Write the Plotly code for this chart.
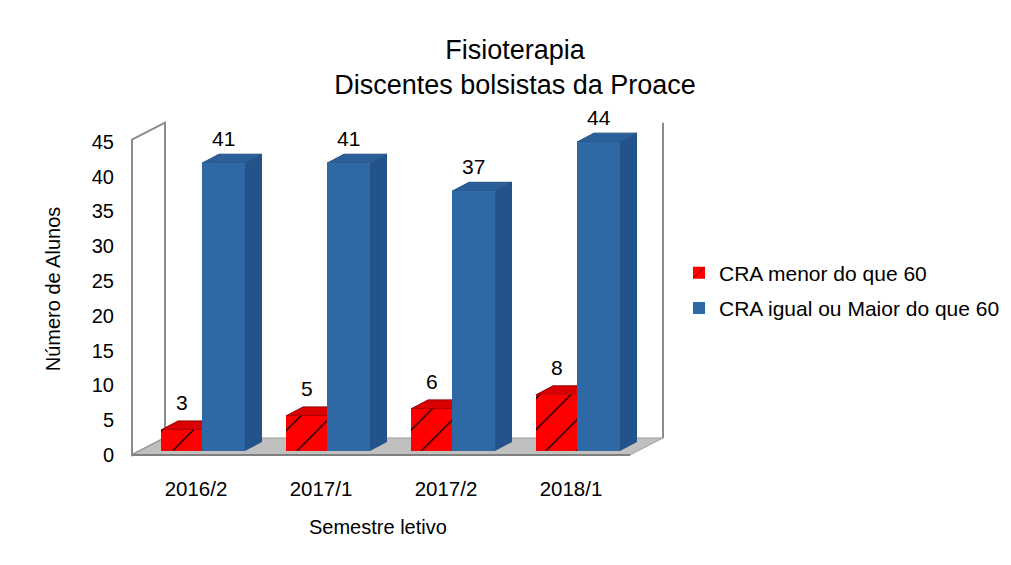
import plotly.graph_objects as go

# ---------------- data ----------------
semestres = ["2016/2", "2017/1", "2017/2", "2018/1"]
cra_menor = [3, 5, 6, 8]
cra_maior = [41, 41, 37, 44]
nome_menor = "CRA menor do que 60"
nome_maior = "CRA igual ou Maior do que 60"
y_ticks = [0, 5, 10, 15, 20, 25, 30, 35, 40, 45]

titulo = "Fisioterapia<br>Discentes bolsistas da Proace"
titulo_y = "Número de Alunos"
titulo_x = "Semestre letivo"

# ---------------- style / geometry ----------------
FONT = "Liberation Sans, Arial, sans-serif"
RED = "#FF0000"
RED_TOP = "#D80000"
BLUE = "#2E69A6"
BLUE_SIDE = "#24528A"
BLUE_TOP = "#2A5F99"

W, H = 1011, 565
ML, MR, MT, MB = 122, 351, 112, 115   # page has an 8px body margin
PW = W - ML - MR
PH = H - MT - MB

pos = list(range(len(semestres)))
RED_OFF, RED_W = -0.28, 0.328
BLUE_OFF, BLUE_W = 0.048, 0.344
DDX, DDY = 0.136, 1.28          # bar depth (x units, y2 units)

X_RANGE = [-0.528, 3.776]
Y_RANGE = [-0.431, 48.13]       # front plane (tick labels)
Y2_RANGE = [-0.997, 47.15]      # plane where bars stand

# floor / walls (front plane axis units)
FL_X0, FL_X1 = -0.512, 3.472
W_DX, W_DY = 0.264, 2.45
W_TOP = 45.3

fig = go.Figure()

fig.add_bar(
    x=pos, y=cra_menor, offset=RED_OFF, width=RED_W, name=nome_menor,
    yaxis="y2", legendgroup="a",
    marker=dict(color=RED, line=dict(width=0),
                pattern=dict(shape="/", fgcolor="black", bgcolor=RED,
                             size=22, solidity=0.06, fillmode="replace")),
    hovertemplate="%{y}<extra>" + nome_menor + "</extra>",
)
fig.add_bar(
    x=pos, y=cra_maior, offset=BLUE_OFF, width=BLUE_W, name=nome_maior,
    yaxis="y2", legendgroup="b",
    marker=dict(color=BLUE, line=dict(width=0)),
    hovertemplate="%{y}<extra>" + nome_maior + "</extra>",
)

shapes = []
# left wall
shapes.append(dict(type="path", xref="x", yref="y", layer="below",
                   path=f"M{FL_X0},0 L{FL_X0},{W_TOP} L{FL_X0+W_DX},{W_TOP+W_DY} L{FL_X0+W_DX},{W_DY} Z",
                   fillcolor="white", line=dict(color="#8C8C8C", width=2)))
# floor
shapes.append(dict(type="path", xref="x", yref="y", layer="below",
                   path=f"M{FL_X0},0 L{FL_X1},0 L{FL_X1+W_DX},{W_DY} L{FL_X0+W_DX},{W_DY} Z",
                   fillcolor="#C0C0C0", line=dict(color="#A0A0A0", width=1)))
# front floor edge
shapes.append(dict(type="line", xref="x", yref="y", layer="below",
                   x0=FL_X0, x1=FL_X1, y0=0, y1=0, line=dict(color="#7F7F7F", width=2)))
# right wall edge
shapes.append(dict(type="line", xref="x", yref="y", layer="below",
                   x0=FL_X1 + W_DX, x1=FL_X1 + W_DX, y0=W_DY, y1=W_TOP + W_DY,
                   line=dict(color="#8C8C8C", width=2)))


def faces(xl, xr, v, side_col, top_col, edge):
    out = []
    out.append(dict(type="path", xref="x", yref="y2", layer="below",
                    path=f"M{xr},0 L{xr},{v} L{xr+DDX},{v+DDY} L{xr+DDX},{DDY} Z",
                    fillcolor=side_col, line=dict(width=0)))
    out.append(dict(type="path", xref="x", yref="y2", layer="below",
                    path=f"M{xl},{v} L{xr},{v} L{xr+DDX},{v+DDY} L{xl+DDX},{v+DDY} Z",
                    fillcolor=top_col, line=dict(color=edge, width=1)))
    return out


annotations = []
for i, (r, b) in enumerate(zip(cra_menor, cra_maior)):
    rl = i + RED_OFF
    shapes += faces(rl, rl + RED_W, r, "#B00000", RED_TOP, "#900000")
    bl = i + BLUE_OFF
    shapes += faces(bl, bl + BLUE_W, b, BLUE_SIDE, BLUE_TOP, "#234F80")
    annotations.append(dict(x=rl + RED_W / 2, y=r, xref="x", yref="y2", text=str(r),
                            showarrow=False, yshift=27, font=dict(size=21, color="black")))
    annotations.append(dict(x=bl + BLUE_W / 2, y=b, xref="x", yref="y2", text=str(b),
                            showarrow=False, yshift=25, font=dict(size=21, color="black")))

# x-axis title placed at page pixel (378, 527)
annotations.append(dict(x=(378 - 8 - ML) / PW, y=(H - MB - (527 - 8)) / PH,
                        xref="paper", yref="paper", text=titulo_x, yanchor="middle",
                        showarrow=False, font=dict(size=20, color="black")))

fig.update_layout(
    width=W, height=H,
    margin=dict(l=ML, r=MR, t=MT, b=MB, autoexpand=False),
    paper_bgcolor="white", plot_bgcolor="rgba(0,0,0,0)",
    font=dict(family=FONT, color="black"),
    barmode="overlay",
    title=dict(text=titulo, x=(515 - 8) / W, xanchor="center", xref="container",
               y=1 - 51 / H, yanchor="middle", yref="container",
               font=dict(size=27, color="black")),
    xaxis=dict(range=X_RANGE, tickvals=pos, ticktext=semestres, showgrid=False,
               zeroline=False, showline=False, ticks="", ticklabelstandoff=16,
               tickfont=dict(size=20.5)),
    yaxis=dict(range=Y_RANGE, tickvals=y_ticks, showgrid=False, zeroline=False,
               showline=False, ticks="", ticklabelstandoff=15, tickfont=dict(size=20),
               title=dict(text=titulo_y, standoff=25, font=dict(size=20))),
    yaxis2=dict(range=Y2_RANGE, overlaying="y", visible=False),
    legend=dict(x=1.0204, xanchor="left", y=0.608, yanchor="top",
                font=dict(size=21), tracegroupgap=5, bgcolor="rgba(0,0,0,0)"),
    shapes=shapes,
    annotations=annotations,
    showlegend=True,
)

fig.write_html("out.html")
